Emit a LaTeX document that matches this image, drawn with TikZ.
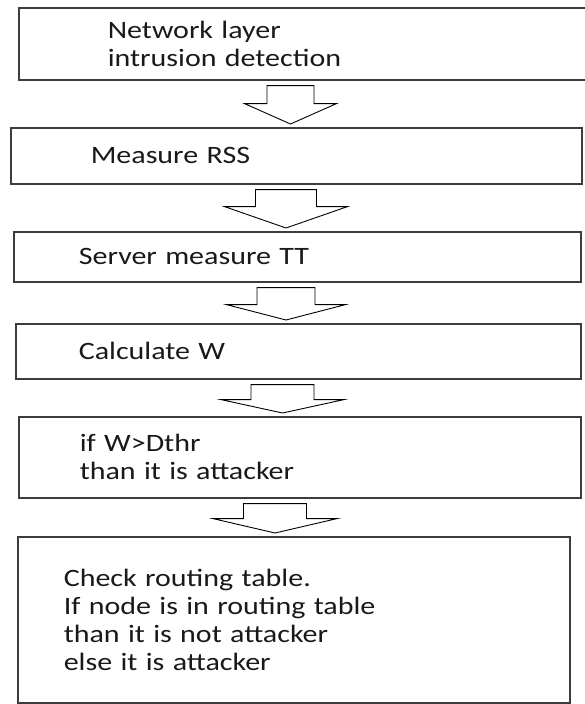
\documentclass[tikz,border=0pt]{standalone}
\usepackage{fontspec}
\setmainfont{Carlito}[FakeStretch=1.2]
\usetikzlibrary{calc}
\definecolor{boxline}{RGB}{60, 60, 60}
\definecolor{boxtext}{RGB}{25, 25, 25}

% hollow block arrow: from node, to node, x, stem half width, head half width, stem length
\newcommand{\blockarrow}[6]{%
  \draw[arrowline] let \p1=(#1.south), \p2=(#2.north) in
    ({#3pt-#4pt},{\y1-5pt}) -- ({#3pt-#4pt},{\y1-5pt-#6pt})
    -- ({#3pt-#5pt},{\y1-5pt-#6pt}) -- (#3pt,{\y2+3pt})
    -- ({#3pt+#5pt},{\y1-5pt-#6pt}) -- ({#3pt+#4pt},{\y1-5pt-#6pt})
    -- ({#3pt+#4pt},{\y1-5pt}) -- cycle;}

\begin{document}
\begin{tikzpicture}[x=1pt, y=-1pt,
    procbox/.style={draw=boxline, line width=1.6pt, anchor=north west,
      align=left, inner ysep=0pt, text=boxtext,
      font=\fontsize{25}{28}\selectfont}, % caixas do fluxo
    arrowline/.style={draw=black, line width=0.9pt, line join=miter}]
  \useasboundingbox (0,0) rectangle (584,704);

  \node[procbox, minimum height=72pt, inner xsep=89pt, text width=404pt]
    (net) at (18,7) {Network layer\\intrusion detection};
  \node[procbox, minimum height=56pt, inner xsep=80pt, text width=411pt]
    (rss) at (10,127) {Measure RSS};
  \node[procbox, minimum height=50pt, inner xsep=65pt, text width=437pt]
    (srv) at (13,231) {Server measure TT};
  \node[procbox, minimum height=55pt, inner xsep=63pt, text width=439pt]
    (calcw) at (15,323) {Calculate W};
  \node[procbox, minimum height=81pt, inner xsep=61pt, text width=440pt]
    (thr) at (18,416) {if W>Dthr\\than it is attacker};
  \node[procbox, minimum height=166pt, inner xsep=46pt, text width=460pt]
    (route) at (17,536) {Check routing table.\\If node is in routing table\\than it is not attacker\\else it is attacker};

  \blockarrow{net}{rss}{290.5}{23.5}{46}{18}
  \blockarrow{rss}{srv}{286}{30.5}{61.5}{17}
  \blockarrow{srv}{calcw}{286}{29}{59.5}{17}
  \blockarrow{calcw}{thr}{282.5}{31.5}{61.5}{15}
  \blockarrow{thr}{route}{275}{31.5}{62}{15}
\end{tikzpicture}
\end{document}
